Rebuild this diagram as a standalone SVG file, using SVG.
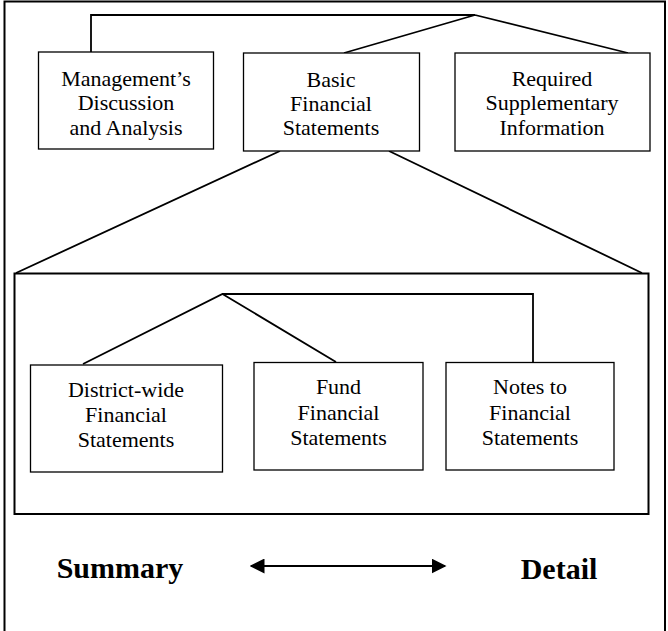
<svg xmlns="http://www.w3.org/2000/svg" width="668" height="631" viewBox="0 0 668 631">
<defs>
<style>
.box{fill:#fff;stroke:#000;stroke-width:1.3}
.lbl{font-family:"Liberation Serif","Times New Roman",serif;font-size:22px;fill:#000;text-anchor:middle}
.big{font-family:"Liberation Serif","Times New Roman",serif;font-size:30px;font-weight:bold;fill:#000;text-anchor:middle}
.con{fill:none;stroke:#000;stroke-width:1.8}
</style>
<marker id="ah" viewBox="0 0 10 10" refX="9" refY="5" markerWidth="15" markerHeight="15" markerUnits="userSpaceOnUse" orient="auto-start-reverse">
<path d="M0,0 L10,5 L0,10 Z" fill="#000"/>
</marker>
</defs>
<rect width="668" height="631" fill="#fff"/>
<path d="M4.5,632 V1.5 H665 V632" fill="none" stroke="#000" stroke-width="2"/>
<g id="connectors">
<path class="con" d="M91,52 V15 H475 M475,15 L344,53 M475,15 L628,53"/>
<path class="con" d="M280,151 L16,273 M389,151 L642,273"/>
<path class="con" d="M83,364 L222.5,294 H533 V362 M222.5,294 L336,362"/>
<line x1="251" y1="566" x2="445" y2="566" stroke="#000" stroke-width="2" marker-start="url(#ah)" marker-end="url(#ah)"/>
</g>
<g id="bfs-group">
<rect x="14.5" y="273.5" width="634" height="240.5" fill="none" stroke="#000" stroke-width="2"/>
</g>
<g id="mda">
<rect class="box" x="38.5" y="52" width="175" height="97"/>
<text class="lbl" x="126" y="86">Management’s</text>
<text class="lbl" x="126" y="110">Discussion</text>
<text class="lbl" x="126" y="135">and Analysis</text>
</g>
<g id="bfs">
<rect class="box" x="243.5" y="53" width="176" height="98"/>
<text class="lbl" x="331" y="87">Basic</text>
<text class="lbl" x="331" y="111">Financial</text>
<text class="lbl" x="331" y="135">Statements</text>
</g>
<g id="rsi">
<rect class="box" x="455" y="53" width="195" height="98"/>
<text class="lbl" x="552" y="86">Required</text>
<text class="lbl" x="552" y="110">Supplementary</text>
<text class="lbl" x="552" y="135">Information</text>
</g>
<g id="dwfs">
<rect class="box" x="30.5" y="365" width="192" height="107"/>
<text class="lbl" x="126" y="397">District-wide</text>
<text class="lbl" x="126" y="422">Financial</text>
<text class="lbl" x="126" y="447">Statements</text>
</g>
<g id="ffs">
<rect class="box" x="254" y="362.5" width="169" height="107.5"/>
<text class="lbl" x="338.5" y="394">Fund</text>
<text class="lbl" x="338.5" y="420">Financial</text>
<text class="lbl" x="338.5" y="445">Statements</text>
</g>
<g id="nfs">
<rect class="box" x="446" y="362.5" width="168" height="107.5"/>
<text class="lbl" x="530" y="394">Notes to</text>
<text class="lbl" x="530" y="420">Financial</text>
<text class="lbl" x="530" y="445">Statements</text>
</g>
<g id="summary"><text class="big" x="120" y="578">Summary</text></g>
<g id="detail"><text class="big" x="559" y="579">Detail</text></g>
</svg>
